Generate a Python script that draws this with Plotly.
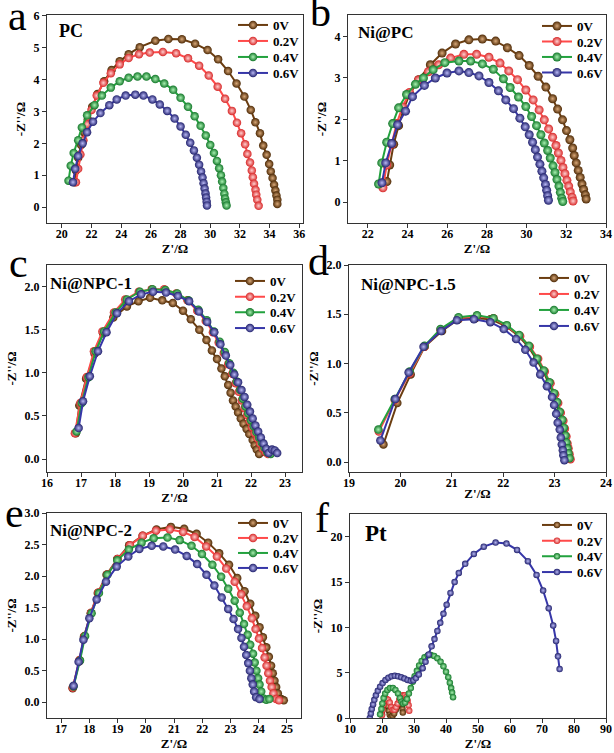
import plotly.graph_objects as go

# ---------------- data ----------------
series_names = ["0V", "0.2V", "0.4V", "0.6V"]

# Panel a : PC
PC_0V_x = [20.85, 20.95, 21.1, 21.3, 21.5, 21.75, 22.05, 22.4, 22.85, 23.35, 23.9, 24.5, 25.25, 26.3, 27.18, 28.09, 28.98, 29.82, 30.53, 31.2, 31.77, 32.3, 32.73, 33.04, 33.35, 33.57, 33.8, 33.97, 34.08, 34.2, 34.3, 34.39, 34.46, 34.52, 34.52]
PC_0V_y = [0.78, 1.15, 1.55, 1.95, 2.35, 2.75, 3.15, 3.55, 3.95, 4.3, 4.58, 4.8, 5.02, 5.22, 5.28, 5.27, 5.13, 4.93, 4.64, 4.27, 3.88, 3.47, 3.05, 2.66, 2.32, 1.93, 1.64, 1.35, 1.12, 0.91, 0.7, 0.52, 0.36, 0.23, 0.1]
PC_02_x = [20.95, 21.1, 21.25, 21.45, 21.7, 22.0, 22.35, 22.8, 23.3, 23.9, 24.5, 25.2, 25.92, 26.81, 27.7, 28.5, 29.25, 29.9, 30.5, 31.0, 31.46, 31.8, 32.08, 32.35, 32.5, 32.68, 32.8, 32.87, 32.95, 33.05, 33.1, 33.17, 33.26]
PC_02_y = [0.78, 1.2, 1.65, 2.1, 2.6, 3.05, 3.5, 3.9, 4.2, 4.48, 4.68, 4.8, 4.85, 4.87, 4.83, 4.67, 4.44, 4.13, 3.78, 3.4, 3.02, 2.65, 2.32, 1.97, 1.67, 1.4, 1.15, 0.94, 0.73, 0.54, 0.39, 0.23, 0.04]
PC_04_x = [20.45, 20.6, 20.8, 21.1, 21.35, 21.7, 22.2, 22.7, 23.3, 23.9, 24.5, 25.1, 25.7, 26.3, 26.9, 27.5, 28.0, 28.5, 28.95, 29.35, 29.7, 30.0, 30.25, 30.45, 30.6, 30.72, 30.8, 30.88, 30.95, 31.0, 31.05, 31.1]
PC_04_y = [0.83, 1.3, 1.7, 2.1, 2.5, 2.88, 3.2, 3.5, 3.75, 3.95, 4.06, 4.1, 4.1, 4.02, 3.88, 3.68, 3.43, 3.15, 2.85, 2.55, 2.25, 1.95, 1.7, 1.45, 1.22, 1.0, 0.8, 0.6, 0.42, 0.27, 0.15, 0.05]
PC_06_x = [20.75, 20.9, 21.1, 21.4, 21.7, 22.1, 22.6, 23.2, 23.7, 24.3, 24.95, 25.5, 26.1, 26.6, 27.1, 27.6, 28.0, 28.35, 28.65, 28.9, 29.1, 29.25, 29.38, 29.48, 29.55, 29.62, 29.68, 29.72, 29.76, 29.78]
PC_06_y = [0.78, 1.2, 1.6, 2.0, 2.35, 2.68, 2.95, 3.2, 3.38, 3.5, 3.53, 3.5, 3.38, 3.22, 3.02, 2.78, 2.53, 2.27, 2.02, 1.78, 1.55, 1.33, 1.12, 0.93, 0.75, 0.58, 0.43, 0.3, 0.17, 0.05]

# Panel b : Ni@PC
NiPC_0V_x = [22.96, 23.1, 23.3, 23.55, 23.8, 24.1, 24.56, 25.15, 25.74, 26.42, 27.09, 27.77, 28.44, 29.03, 29.62, 30.13, 30.58, 30.97, 31.31, 31.56, 31.81, 32.01, 32.18, 32.32, 32.4, 32.5, 32.6, 32.7, 32.79, 32.87, 32.96, 33.0]
NiPC_0V_y = [0.5, 0.9, 1.4, 1.85, 2.25, 2.6, 2.96, 3.32, 3.6, 3.82, 3.92, 3.94, 3.89, 3.73, 3.54, 3.3, 3.04, 2.78, 2.5, 2.25, 1.99, 1.73, 1.51, 1.31, 1.13, 0.95, 0.77, 0.6, 0.44, 0.31, 0.18, 0.08]
NiPC_02_x = [22.76, 22.95, 23.2, 23.45, 23.75, 24.1, 24.55, 25.05, 25.57, 26.17, 26.84, 27.48, 28.1, 28.66, 29.1, 29.54, 29.96, 30.33, 30.63, 30.89, 31.11, 31.31, 31.48, 31.6, 31.73, 31.83, 31.93, 32.03, 32.12, 32.2, 32.29, 32.34]
NiPC_02_y = [0.35, 0.9, 1.4, 1.9, 2.3, 2.65, 2.95, 3.15, 3.32, 3.48, 3.57, 3.57, 3.5, 3.36, 3.17, 2.96, 2.71, 2.47, 2.23, 1.99, 1.77, 1.57, 1.37, 1.19, 1.01, 0.84, 0.69, 0.53, 0.39, 0.25, 0.12, 0.03]
NiPC_04_x = [22.54, 22.7, 22.95, 23.25, 23.55, 23.95, 24.4, 24.8, 25.29, 25.88, 26.59, 27.18, 27.77, 28.32, 28.83, 29.17, 29.59, 29.96, 30.25, 30.5, 30.72, 30.89, 31.06, 31.19, 31.33, 31.43, 31.53, 31.63, 31.7, 31.77, 31.82]
NiPC_04_y = [0.44, 0.95, 1.45, 1.9, 2.28, 2.6, 2.85, 3.0, 3.2, 3.37, 3.41, 3.41, 3.34, 3.21, 2.98, 2.77, 2.54, 2.31, 2.07, 1.85, 1.63, 1.43, 1.25, 1.07, 0.88, 0.72, 0.55, 0.39, 0.24, 0.1, 0.02]
NiPC_06_x = [22.71, 22.9, 23.2, 23.5, 23.9, 24.25, 24.85, 25.4, 25.99, 26.59, 27.09, 27.6, 28.1, 28.58, 28.95, 29.34, 29.66, 29.93, 30.13, 30.3, 30.44, 30.55, 30.67, 30.77, 30.86, 30.95, 31.01, 31.06, 31.1]
NiPC_06_y = [0.47, 0.95, 1.42, 1.87, 2.2, 2.55, 2.82, 3.0, 3.12, 3.17, 3.13, 3.05, 2.89, 2.69, 2.47, 2.26, 2.03, 1.82, 1.63, 1.45, 1.27, 1.09, 0.92, 0.75, 0.59, 0.43, 0.29, 0.16, 0.05]

# Panel c : Ni@NPC-1
NPC1_0V_x = [16.85, 16.95, 17.15, 17.4, 17.65, 17.95, 18.35, 18.69, 19.03, 19.39, 19.7, 20.0, 20.23, 20.48, 20.69, 20.85, 21.0, 21.13, 21.23, 21.33, 21.4, 21.47, 21.55, 21.62, 21.7, 21.78, 21.87, 21.95, 22.05, 22.11, 22.17, 22.24]
NPC1_0V_y = [0.3, 0.62, 0.93, 1.22, 1.46, 1.64, 1.77, 1.83, 1.87, 1.84, 1.81, 1.72, 1.62, 1.5, 1.38, 1.26, 1.16, 1.05, 0.96, 0.86, 0.77, 0.68, 0.61, 0.54, 0.47, 0.41, 0.35, 0.29, 0.22, 0.16, 0.11, 0.06]
NPC1_02_x = [16.82, 16.98, 17.17, 17.38, 17.63, 17.97, 18.3, 18.7, 19.08, 19.45, 19.8, 20.13, 20.42, 20.67, 20.88, 21.05, 21.2, 21.33, 21.45, 21.55, 21.64, 21.73, 21.81, 21.89, 21.96, 22.03, 22.11, 22.19, 22.27, 22.35, 22.43, 22.5]
NPC1_02_y = [0.3, 0.65, 0.95, 1.25, 1.48, 1.7, 1.85, 1.94, 1.97, 1.97, 1.92, 1.84, 1.72, 1.6, 1.47, 1.35, 1.23, 1.1, 0.99, 0.88, 0.78, 0.68, 0.59, 0.51, 0.44, 0.37, 0.3, 0.24, 0.18, 0.12, 0.08, 0.06]
NPC1_04_x = [16.87, 17.02, 17.22, 17.43, 17.68, 18.02, 18.35, 18.73, 19.1, 19.48, 19.83, 20.16, 20.45, 20.7, 20.91, 21.08, 21.23, 21.36, 21.48, 21.58, 21.68, 21.76, 21.84, 21.92, 22.0, 22.08, 22.16, 22.24, 22.32, 22.4, 22.48, 22.58]
NPC1_04_y = [0.32, 0.65, 0.95, 1.25, 1.48, 1.7, 1.85, 1.94, 1.97, 1.96, 1.92, 1.84, 1.73, 1.61, 1.48, 1.36, 1.24, 1.11, 1.0, 0.9, 0.8, 0.7, 0.61, 0.53, 0.45, 0.38, 0.31, 0.25, 0.19, 0.13, 0.08, 0.06]
NPC1_06_x = [16.93, 17.06, 17.26, 17.5, 17.75, 18.06, 18.41, 18.77, 19.12, 19.5, 19.85, 20.18, 20.47, 20.71, 20.92, 21.1, 21.26, 21.39, 21.51, 21.62, 21.72, 21.81, 21.89, 21.97, 22.05, 22.13, 22.21, 22.29, 22.37, 22.45, 22.52, 22.62, 22.7, 22.77]
NPC1_06_y = [0.36, 0.67, 0.96, 1.25, 1.47, 1.69, 1.83, 1.91, 1.94, 1.93, 1.89, 1.83, 1.71, 1.59, 1.47, 1.33, 1.2, 1.09, 0.98, 0.89, 0.8, 0.72, 0.63, 0.55, 0.47, 0.39, 0.32, 0.25, 0.18, 0.12, 0.07, 0.11, 0.1, 0.07]

# Panel d : Ni@NPC-1.5
NPC15_0V_x = [19.67, 19.94, 20.2, 20.47, 20.81, 21.13, 21.46, 21.75, 22.05, 22.3, 22.49, 22.65, 22.78, 22.89, 22.98, 23.04, 23.09, 23.14, 23.17, 23.2, 23.22, 23.24, 23.26, 23.27]
NPC15_0V_y = [0.18, 0.6, 0.89, 1.17, 1.33, 1.45, 1.46, 1.45, 1.38, 1.28, 1.17, 1.04, 0.92, 0.8, 0.69, 0.6, 0.5, 0.42, 0.34, 0.26, 0.19, 0.14, 0.08, 0.04]
NPC15_02_x = [19.58, 19.89, 20.18, 20.47, 20.78, 21.13, 21.49, 21.81, 22.07, 22.33, 22.52, 22.68, 22.81, 22.92, 23.01, 23.07, 23.12, 23.17, 23.2, 23.23, 23.25, 23.27, 23.29, 23.31]
NPC15_02_y = [0.31, 0.63, 0.9, 1.17, 1.34, 1.46, 1.48, 1.46, 1.38, 1.28, 1.17, 1.05, 0.92, 0.8, 0.69, 0.6, 0.5, 0.42, 0.34, 0.26, 0.19, 0.14, 0.08, 0.03]
NPC15_04_x = [19.57, 19.89, 20.18, 20.47, 20.78, 21.13, 21.49, 21.81, 22.07, 22.31, 22.5, 22.66, 22.79, 22.9, 22.99, 23.05, 23.1, 23.15, 23.18, 23.21, 23.23, 23.25, 23.27, 23.29]
NPC15_04_y = [0.33, 0.64, 0.92, 1.18, 1.35, 1.47, 1.49, 1.46, 1.39, 1.29, 1.18, 1.05, 0.93, 0.81, 0.7, 0.61, 0.51, 0.43, 0.35, 0.27, 0.2, 0.14, 0.09, 0.04]
NPC15_06_x = [19.61, 19.9, 20.16, 20.45, 20.79, 21.1, 21.43, 21.75, 22.01, 22.25, 22.43, 22.59, 22.72, 22.85, 22.95, 22.99, 23.03, 23.06, 23.1, 23.12, 23.14, 23.16, 23.17, 23.19]
NPC15_06_y = [0.22, 0.64, 0.91, 1.17, 1.33, 1.44, 1.45, 1.42, 1.35, 1.25, 1.14, 1.01, 0.89, 0.77, 0.66, 0.58, 0.49, 0.4, 0.33, 0.25, 0.18, 0.12, 0.07, 0.02]

# Panel e : Ni@NPC-2
NPC2_0V_x = [17.41, 17.65, 17.81, 18.05, 18.3, 18.61, 18.99, 19.41, 19.89, 20.38, 20.89, 21.36, 21.8, 22.21, 22.6, 22.95, 23.24, 23.5, 23.7, 23.88, 24.03, 24.15, 24.27, 24.36, 24.44, 24.5, 24.56, 24.62, 24.68, 24.8, 24.89]
NPC2_0V_y = [0.22, 0.65, 1.04, 1.41, 1.73, 2.02, 2.27, 2.49, 2.64, 2.74, 2.78, 2.75, 2.67, 2.53, 2.36, 2.18, 1.97, 1.76, 1.56, 1.37, 1.19, 1.03, 0.87, 0.72, 0.58, 0.46, 0.34, 0.24, 0.14, 0.05, 0.03]
NPC2_02_x = [17.41, 17.65, 17.83, 18.06, 18.32, 18.64, 19.0, 19.44, 19.89, 20.36, 20.85, 21.32, 21.73, 22.14, 22.52, 22.85, 23.15, 23.38, 23.58, 23.76, 23.89, 24.01, 24.12, 24.21, 24.28, 24.34, 24.4, 24.46, 24.52, 24.62, 24.72]
NPC2_02_y = [0.23, 0.67, 1.05, 1.42, 1.74, 2.03, 2.27, 2.49, 2.64, 2.72, 2.74, 2.7, 2.62, 2.47, 2.31, 2.12, 1.91, 1.71, 1.52, 1.33, 1.16, 1.01, 0.86, 0.71, 0.58, 0.46, 0.34, 0.24, 0.14, 0.05, 0.03]
NPC2_04_x = [17.44, 17.67, 17.85, 18.08, 18.34, 18.64, 18.99, 19.4, 19.85, 20.28, 20.77, 21.2, 21.62, 21.99, 22.36, 22.67, 22.92, 23.15, 23.33, 23.48, 23.61, 23.7, 23.8, 23.86, 23.92, 23.98, 24.03, 24.09, 24.17, 24.27, 24.38]
NPC2_04_y = [0.25, 0.66, 1.05, 1.41, 1.73, 2.02, 2.25, 2.42, 2.53, 2.6, 2.61, 2.57, 2.48, 2.35, 2.18, 1.99, 1.8, 1.61, 1.42, 1.24, 1.07, 0.91, 0.77, 0.63, 0.5, 0.38, 0.28, 0.17, 0.06, 0.04, 0.05]
NPC2_06_x = [17.44, 17.62, 17.79, 18.0, 18.26, 18.59, 18.97, 19.38, 19.77, 20.21, 20.62, 21.04, 21.45, 21.82, 22.15, 22.43, 22.69, 22.92, 23.11, 23.27, 23.39, 23.48, 23.56, 23.63, 23.69, 23.74, 23.79, 23.84, 23.91, 24.03]
NPC2_06_y = [0.26, 0.64, 0.99, 1.33, 1.63, 1.91, 2.15, 2.31, 2.43, 2.48, 2.47, 2.42, 2.32, 2.19, 2.02, 1.85, 1.66, 1.48, 1.32, 1.16, 1.02, 0.88, 0.75, 0.62, 0.5, 0.38, 0.28, 0.17, 0.08, 0.05]

# Panel f : Pt
Pt_0V_x = [20.0, 20.2, 20.5, 20.9, 21.4, 21.8, 22.1, 22.4, 22.8, 23.3, 23.8, 24.3, 24.8, 25.3, 25.8, 26.2, 26.4, 26.5]
Pt_0V_y = [0.4, 1.0, 1.5, 1.75, 1.7, 1.3, 0.8, 0.35, 0.15, 0.25, 0.5, 0.9, 1.3, 1.6, 1.7, 1.4, 1.0, 0.6]
Pt_02_x = [20.0, 20.2, 20.5, 20.9, 21.4, 21.9, 22.4, 22.9, 23.4, 23.9, 24.4, 24.9, 25.4, 25.9, 26.5, 27.1, 27.6, 28.0, 28.3, 28.5]
Pt_02_y = [0.3, 0.9, 1.5, 1.9, 2.1, 2.0, 1.7, 1.2, 0.9, 0.9, 1.2, 1.6, 2.0, 2.3, 2.5, 2.5, 2.3, 1.9, 1.4, 0.8]
Pt_04_x = [19.4, 19.8, 20.1, 20.5, 21.0, 21.7, 22.5, 23.4, 24.2, 25.0, 25.6, 26.1, 26.6, 27.2, 27.8, 28.4, 29.0, 29.6, 30.2, 30.9, 31.6, 32.4, 33.3, 34.3, 35.3, 36.3, 37.3, 38.3, 39.2, 40.0, 40.7, 41.2, 41.6, 41.9, 42.2]
Pt_04_y = [0.4, 1.0, 1.6, 2.2, 2.7, 3.1, 3.3, 3.3, 3.1, 2.7, 2.2, 1.8, 1.6, 1.7, 2.1, 2.7, 3.3, 4.0, 4.6, 5.2, 5.8, 6.3, 6.7, 6.9, 6.95, 6.85, 6.6, 6.2, 5.7, 5.1, 4.5, 3.9, 3.3, 2.8, 2.3]
Pt_06_x = [16.2, 16.5, 16.8, 17.2, 17.6, 18.1, 18.7, 19.4, 20.2, 21.1, 22.0, 23.0, 24.0, 25.0, 26.0, 27.0, 28.0, 29.0, 29.8, 30.6, 31.5, 32.7, 33.6, 34.6, 35.5, 36.4, 37.3, 38.2, 39.2, 40.2, 41.4, 42.7, 44.0, 46.0, 48.7, 51.8, 55.5, 58.9, 62.2, 65.6, 68.3, 70.35, 72.1, 73.5, 74.4, 75.0, 75.5]
Pt_06_y = [0.0, 0.5, 1.0, 1.5, 2.0, 2.5, 3.0, 3.45, 3.85, 4.2, 4.45, 4.6, 4.65, 4.6, 4.5, 4.35, 4.2, 4.1, 4.15, 4.4, 4.8, 5.5, 6.2, 7.0, 7.9, 8.7, 9.6, 10.5, 11.5, 12.5, 13.8, 15.0, 16.0, 17.0, 18.1, 18.9, 19.35, 19.24, 18.54, 17.3, 15.78, 14.06, 12.11, 10.2, 8.5, 6.8, 5.4]

panel_titles = ["PC", "Ni@PC", "Ni@NPC-1", "Ni@NPC-1.5", "Ni@NPC-2", "Pt"]
panel_letters = ["a", "b", "c", "d", "e", "f"]
x_title = "Z'/Ω"
y_title = "-Z''/Ω"

panels = [
    [(PC_0V_x, PC_0V_y), (PC_02_x, PC_02_y), (PC_04_x, PC_04_y), (PC_06_x, PC_06_y)],
    [(NiPC_0V_x, NiPC_0V_y), (NiPC_02_x, NiPC_02_y), (NiPC_04_x, NiPC_04_y), (NiPC_06_x, NiPC_06_y)],
    [(NPC1_0V_x, NPC1_0V_y), (NPC1_02_x, NPC1_02_y), (NPC1_04_x, NPC1_04_y), (NPC1_06_x, NPC1_06_y)],
    [(NPC15_0V_x, NPC15_0V_y), (NPC15_02_x, NPC15_02_y), (NPC15_04_x, NPC15_04_y), (NPC15_06_x, NPC15_06_y)],
    [(NPC2_0V_x, NPC2_0V_y), (NPC2_02_x, NPC2_02_y), (NPC2_04_x, NPC2_04_y), (NPC2_06_x, NPC2_06_y)],
    [(Pt_0V_x, Pt_0V_y), (Pt_02_x, Pt_02_y), (Pt_04_x, Pt_04_y), (Pt_06_x, Pt_06_y)],
]

# ---------------- styling / layout ----------------
W, H = 614, 753
line_cols = ["#6b3d10", "#ff4a4a", "#22a23e", "#3636a8"]
dark_cols = ["#4e2a06", "#d82828", "#13782a", "#22226e"]
light_cols = ["#d9a878", "#ffd0d0", "#a8f0b0", "#b8b8f4"]

# plot boxes in pixels: (left, right, top, bottom)
boxes = [(47, 303, 15, 223), (348, 606, 15, 223),
         (47, 302, 265, 472), (349, 606, 265, 472),
         (47, 301, 513, 718), (350, 606, 514, 718)]
x_ranges = [[19, 36.25], [21, 34], [16, 23.5], [19, 24], [16.5, 25.5], [10, 90]]
y_ranges = [[-0.5, 6.03], [-0.5, 4.52], [-0.15, 2.25], [-0.1, 2.0], [-0.25, 3.0], [0, 22.5]]
x_dticks = [2, 2, 1, 1, 1, 10]
y_dticks = [1, 1, 0.5, 0.5, 0.5, 5]
y_formats = ["d", "d", ".1f", ".1f", ".1f", "d"]
marker_sizes = [8.5, 9, 8.5, 8.5, 8.5, 6.5]
# legend: (text left x, first item centre y, item spacing)
legend_pos = [(273, 25, 16), (577, 26, 15.5), (270, 281, 15.7), (574, 278, 16),
              (273, 523, 15), (577, 525, 15.7)]
title_pos = [(71, 31, 18), (386, 33, 17), (91, 283, 17), (408, 284, 17), (91, 530, 17), (376, 533, 23)]
letter_pos = [(17, 16), (320, 12), (18, 263), (318, 261), (14, 513), (322, 518)]

serif = "Liberation Serif"
fig = go.Figure()
layout = dict(width=W, height=H, margin=dict(l=0, r=0, t=0, b=0, pad=0, autoexpand=False),
              paper_bgcolor="white", plot_bgcolor="white", showlegend=True,
              annotations=[])

for p in range(6):
    ax = "" if p == 0 else str(p + 1)
    lx, ly, lsp = legend_pos[p]
    for s, (xs, ys) in enumerate(panels[p]):
        k = p * 4 + s + 1
        lg = "legend" if k == 1 else "legend" + str(k)
        fig.add_trace(go.Scatter(
            x=xs, y=ys, mode="lines+markers", name=series_names[s],
            xaxis="x" + ax, yaxis="y" + ax, legend=lg,
            line=dict(color=line_cols[s], width=2),
            marker=dict(size=marker_sizes[p], color=dark_cols[s],
                        gradient=dict(type="radial", color=light_cols[s]),
                        line=dict(width=0)),
        ))
        layout[lg] = dict(x=(lx - 40) / W, y=1 - (ly + s * lsp) / H,
                          xanchor="left", yanchor="middle",
                          bgcolor="rgba(0,0,0,0)", borderwidth=0, itemwidth=30,
                          font=dict(family=serif, size=13, color="black", weight="bold"))
    l, r, t, b = boxes[p]
    axis_common = dict(showline=True, mirror=True, linecolor="#333", linewidth=1.3,
                       ticks="outside", ticklen=4, tickwidth=1.3, tickcolor="#333",
                       showgrid=False, zeroline=False, automargin=False,
                       tickfont=dict(family=serif, size=12, color="black", weight="bold"))
    layout["xaxis" + ax] = dict(axis_common, domain=[l / W, r / W], anchor="y" + ax,
                                range=x_ranges[p], dtick=x_dticks[p], tick0=0,
                                ticklabelstandoff=-5,
                                title=dict(text=x_title, standoff=0,
                                           font=dict(family=serif, size=13, color="black", weight="bold")))
    layout["yaxis" + ax] = dict(axis_common, domain=[1 - b / H, 1 - t / H], anchor="x" + ax,
                                range=y_ranges[p], dtick=y_dticks[p], tick0=0,
                                tickformat=y_formats[p],
                                title=dict(text=y_title, standoff=4,
                                           font=dict(family=serif, size=13, color="black", weight="bold")))
    tx, ty, ts = title_pos[p]
    layout["annotations"].append(dict(
        text=panel_titles[p], x=tx / W, y=1 - ty / H, xref="paper", yref="paper",
        showarrow=False, xanchor="center", yanchor="middle",
        font=dict(family=serif, size=ts, color="black", weight="bold")))
    px_, py_ = letter_pos[p]
    layout["annotations"].append(dict(
        text=panel_letters[p], x=px_ / W, y=1 - py_ / H, xref="paper", yref="paper",
        showarrow=False, xanchor="center", yanchor="middle",
        font=dict(family=serif, size=42, color="black")))

fig.update_layout(**layout)
fig.write_html("out.html", config={"displayModeBar": False},
               post_script="document.body.style.margin='0';document.body.style.padding='0';"
                           "document.documentElement.style.overflow='hidden';")
